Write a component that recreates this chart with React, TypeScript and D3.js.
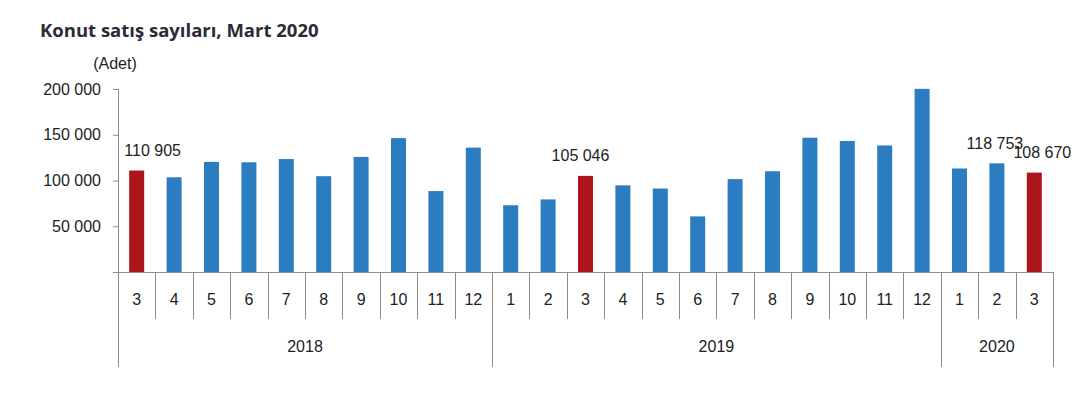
import { useEffect, useRef } from "react";
import * as d3 from "d3";

const years = ["2018", "2019", "2020"];
const months = [
  ["3", "4", "5", "6", "7", "8", "9", "10", "11", "12"],
  ["1", "2", "3", "4", "5", "6", "7", "8", "9", "10", "11", "12"],
  ["1", "2", "3"],
];
const sales2018 = [110905, 103514, 120355, 119943, 123446, 104719, 125764, 146311, 88478, 135951];
const sales2019 = [72937, 79335, 105046, 94721, 91237, 60781, 101505, 110104, 146750, 143175, 138289, 200152];
const sales2020 = [113136, 118753, 108670];
const highlighted = ["2018-3", "2019-3", "2020-3"];
const labelled = ["2018-3", "2019-3", "2020-2", "2020-3"];
const yTicks = [0, 50000, 100000, 150000, 200000];

const fmt = (v: number) => d3.format(",")(v).replace(/,/g, " ");

export default function App() {
  const svgRef = useRef<SVGSVGElement>(null);

  useEffect(() => {
    if (!svgRef.current) return;
    const svg = d3.select(svgRef.current);
    svg.selectAll("*").remove();

    const series = [sales2018, sales2019, sales2020];
    const data = years.flatMap((y, yi) =>
      months[yi].map((m, mi) => ({ key: `${y}-${m}`, year: y, month: m, value: series[yi][mi] }))
    );

    const left = 118, right = 1053, top = 89, bottom = 272;
    const font = "'Liberation Sans', Arial, sans-serif";
    const fs = 16;
    const axisColor = "#8c8c8c";

    const x = d3.scaleBand().domain(data.map(d => d.key)).range([left, right]).paddingInner(0).paddingOuter(0);
    const y = d3.scaleLinear().domain([0, 200000]).range([bottom, top]);
    const bw = 15;

    // title
    svg.append("text")
      .attr("x", 40).attr("y", 37)
      .attr("font-family", "'Open Sans', sans-serif")
      .attr("font-weight", 700)
      .attr("font-size", 18.5)
      .attr("fill", "#2b2b35")
      .text("Konut satış sayıları, Mart 2020");

    svg.append("text")
      .attr("x", 115).attr("y", 63).attr("dy", "0.35em")
      .attr("text-anchor", "middle")
      .attr("font-family", font).attr("font-size", fs).attr("fill", "#222")
      .text("(Adet)");

    // y axis
    const yAxis = svg.append("g");
    yAxis.append("line")
      .attr("x1", left + 0.5).attr("x2", left + 0.5).attr("y1", top).attr("y2", 367)
      .attr("stroke", axisColor);
    yAxis.selectAll("line.tick").data(yTicks.filter(t => t > 0)).join("line")
      .attr("class", "tick")
      .attr("x1", left - 5).attr("x2", left)
      .attr("y1", d => y(d) + 0.5).attr("y2", d => y(d) + 0.5)
      .attr("stroke", axisColor);
    yAxis.selectAll("text").data(yTicks.filter(t => t > 0)).join("text")
      .attr("x", 101).attr("y", d => y(d)).attr("dy", "0.35em")
      .attr("text-anchor", "end")
      .attr("font-family", font).attr("font-size", fs).attr("fill", "#222")
      .text(d => fmt(d));

    // bars
    svg.selectAll("rect.bar").data(data).join("rect")
      .attr("class", "bar")
      .attr("x", d => x(d.key)! + x.bandwidth() / 2 - bw / 2)
      .attr("width", bw)
      .attr("y", d => y(d.value))
      .attr("height", d => bottom - y(d.value))
      .attr("fill", d => highlighted.includes(d.key) ? "#ac161a" : "#2b7cc1");

    // baseline
    svg.append("line")
      .attr("x1", left - 5).attr("x2", right).attr("y1", bottom + 0.5).attr("y2", bottom + 0.5)
      .attr("stroke", axisColor);

    // month dividers and labels
    const starts = new Set(years.map((yr, yi) => `${yr}-${months[yi][0]}`));
    svg.selectAll("line.mdiv").data(data.filter(d => !starts.has(d.key))).join("line")
      .attr("class", "mdiv")
      .attr("x1", d => Math.round(x(d.key)!) + 0.5).attr("x2", d => Math.round(x(d.key)!) + 0.5)
      .attr("y1", bottom).attr("y2", 319)
      .attr("stroke", axisColor);
    svg.selectAll("text.month").data(data).join("text")
      .attr("class", "month")
      .attr("x", d => x(d.key)! + x.bandwidth() / 2)
      .attr("y", 299).attr("dy", "0.35em")
      .attr("text-anchor", "middle")
      .attr("font-family", font).attr("font-size", fs).attr("fill", "#222")
      .text(d => d.month);

    // year dividers and labels
    const yearBounds = years.map((yr, yi) => {
      const ks = months[yi].map(m => `${yr}-${m}`);
      return { year: yr, x0: x(ks[0])!, x1: x(ks[ks.length - 1])! + x.bandwidth() };
    });
    const edges = [...yearBounds.map(b => b.x0), right];
    svg.selectAll("line.ydiv").data(edges.slice(1)).join("line")
      .attr("class", "ydiv")
      .attr("x1", d => Math.round(d) + 0.5).attr("x2", d => Math.round(d) + 0.5)
      .attr("y1", bottom).attr("y2", 367)
      .attr("stroke", axisColor);
    svg.selectAll("text.year").data(yearBounds).join("text")
      .attr("class", "year")
      .attr("x", d => (d.x0 + d.x1) / 2)
      .attr("y", 346).attr("dy", "0.35em")
      .attr("text-anchor", "middle")
      .attr("font-family", font).attr("font-size", fs).attr("fill", "#222")
      .text(d => d.year);

    // value labels
    const labelDx: Record<string, number> = { "2018-3": 16, "2019-3": -5, "2020-2": -2, "2020-3": 8 };
    svg.selectAll("text.val").data(data.filter(d => labelled.includes(d.key))).join("text")
      .attr("class", "val")
      .attr("x", d => x(d.key)! + x.bandwidth() / 2 + labelDx[d.key])
      .attr("y", d => y(d.value) - 20).attr("dy", "0.35em")
      .attr("text-anchor", "middle")
      .attr("font-family", font).attr("font-size", fs).attr("fill", "#222")
      .text(d => fmt(d.value));
  }, []);

  return (
    <svg
      ref={svgRef}
      width={1084}
      height={398}
      style={{ position: "absolute", left: 0, top: 0, background: "#fff" }}
    />
  );
}
